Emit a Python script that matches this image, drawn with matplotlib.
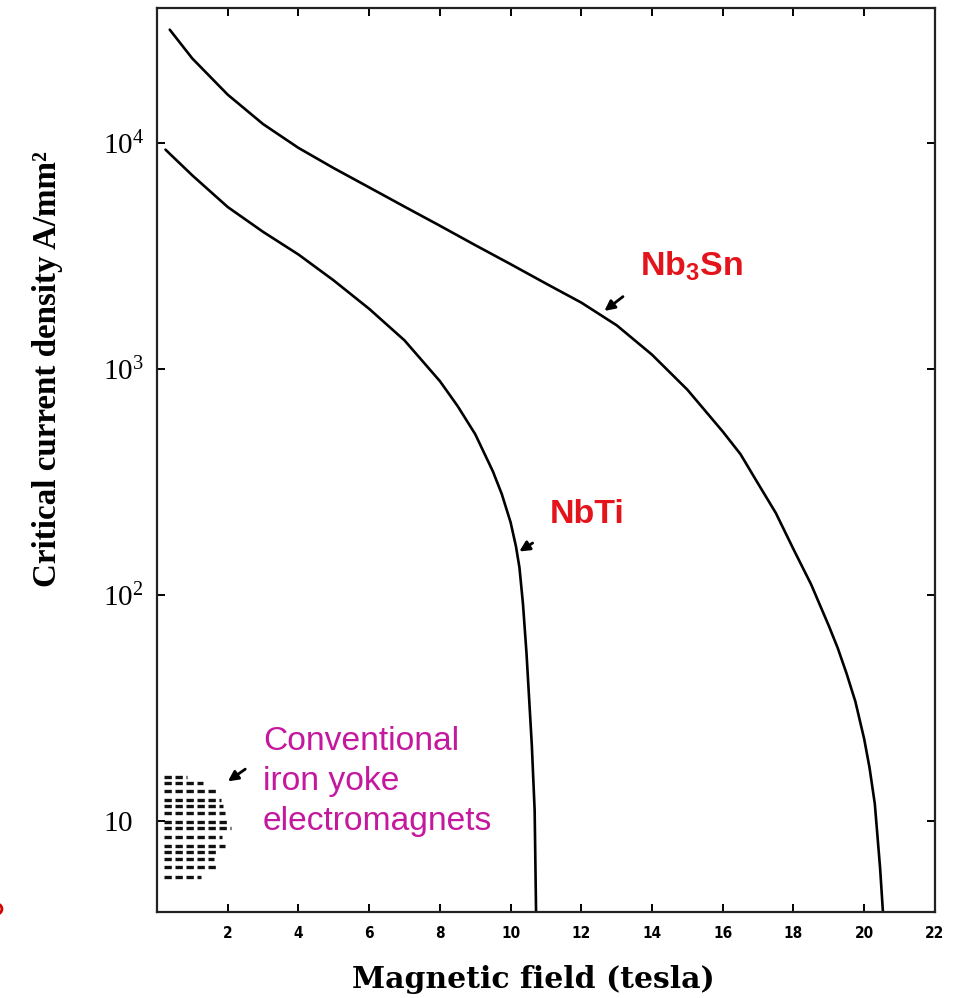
import matplotlib
matplotlib.use("Agg")
import matplotlib.pyplot as plt
from matplotlib.patches import Circle

# values (magnetic field in tesla, current density in A/mm2)
NB3SN_B = [0.36, 1, 2, 3, 4, 5, 6, 7, 8, 9, 10, 11, 12, 13, 14, 15, 16, 16.5, 17, 17.5,
           18, 18.5, 19, 19.25, 19.5, 19.75, 20, 20.15, 20.3, 20.45, 20.53]
NB3SN_J = [31600, 23550, 16300, 12080, 9480, 7710, 6340, 5210, 4290, 3520, 2900, 2380,
           1960, 1556, 1153, 807, 527, 419, 310, 230, 159, 111, 72.8, 58.2, 44.9, 33.7,
           23, 17.2, 11.9, 6.17, 3.95]
NBTI_B = [0.24, 1, 2, 3, 4, 5, 6, 7, 8, 8.5, 9, 9.5, 9.75, 10, 10.15, 10.25, 10.35,
          10.45, 10.6, 10.68, 10.72]
NBTI_J = [9310, 7160, 5190, 4030, 3200, 2455, 1840, 1334, 881, 684, 513, 351, 279, 209,
          164, 132, 91, 55, 21.6, 11.1, 3.95]
IRON_J = [15.7, 14.7, 13.6, 12.4, 11.6, 10.8, 9.9, 9.3, 8.5, 7.7, 7.3, 6.8, 6.25, 5.65]
IRON_BMAX = [0.86, 1.29, 1.71, 1.80, 1.88, 1.91, 1.97, 2.08, 1.85, 1.91, 1.71, 1.60, 1.71, 1.23]
IRON_BMIN = 0.19

X_TICKS = [2, 4, 6, 8, 10, 12, 14, 16, 18, 20, 22]
Y_TICKS = [10, 100, 1000, 10000]
Y_LABELS = [r"$\mathregular{10}$", r"$\mathregular{10^2}$", r"$\mathregular{10^3}$", r"$\mathregular{10^4}$"]
CONV_LINES = ["Conventional", "iron yoke", "electromagnets"]

RED = "#e3141c"
MAGENTA = "#c4189e"

fig = plt.figure(figsize=(9.58, 9.98), dpi=100)
ax = fig.add_axes([0.1639, 0.0862, 0.812, 0.906])
ax.set_yscale("log")
ax.set_xlim(0, 22)
ax.set_ylim(3.95, 39500)

ax.plot(NB3SN_B, NB3SN_J, color="black", lw=1.9, solid_capstyle="round", solid_joinstyle="round")
ax.plot(NBTI_B, NBTI_J, color="black", lw=1.9, solid_capstyle="round", solid_joinstyle="round")
ax.hlines(IRON_J, IRON_BMIN, IRON_BMAX, colors="#111111", lw=2.4, linestyles=(0, (2.2, 1.1)))

for s in ax.spines.values():
    s.set_linewidth(1.6)
    s.set_color("#222222")

ax.set_xticks(X_TICKS)
ax.set_xticklabels([str(t) for t in X_TICKS], fontfamily="DejaVu Sans", fontweight="bold",
                   fontstretch="condensed", fontsize=11)
ax.set_yticks(Y_TICKS)
ax.set_yticklabels(Y_LABELS, fontfamily="Liberation Serif", fontsize=21, ha="left")
ax.yaxis.set_minor_locator(matplotlib.ticker.NullLocator())
ax.tick_params(axis="both", which="major", direction="in", length=6, width=1.4,
               top=True, right=True)
ax.tick_params(axis="y", pad=39)
ax.tick_params(axis="x", pad=10)

arrow = dict(arrowstyle="-|>", lw=2.0, color="black", mutation_scale=15)
ax.annotate("", xy=(12.59, 1770), xytext=(13.24, 2120), arrowprops=arrow)
ax.annotate("", xy=(10.18, 153), xytext=(10.69, 172), arrowprops=arrow)
ax.annotate("", xy=(1.94, 14.7), xytext=(2.56, 17.2), arrowprops=arrow)

ax.text(13.66, 2830, r"Nb$_\mathregular{3}$Sn", color=RED, fontfamily="Liberation Sans",
        fontweight="bold", fontsize=24.5, ha="left", va="center")
ax.text(11.1, 226, "NbTi", color=RED, fontfamily="Liberation Sans",
        fontweight="bold", fontsize=24.5, ha="left", va="center")
for i, line in enumerate(CONV_LINES):
    ax.text(0.136, 0.179 - i * 0.0442, line, transform=ax.transAxes, color=MAGENTA,
            fontfamily="Liberation Sans", fontsize=24.2, ha="left", va="baseline")

fig.text(48 / 958, 1 - 369 / 998, "Critical current density A/mm²", rotation=90,
         fontfamily="Liberation Serif", fontweight="bold", fontsize=23.8,
         ha="center", va="center")
fig.text(533 / 958, 1 - 980 / 998, "Magnetic field (tesla)", fontfamily="DejaVu Serif",
         fontweight="bold", fontsize=21.5, ha="center", va="center")

fig.patches.append(Circle((-0.003, 1 - 909 / 998), 0.005, transform=fig.transFigure,
                          facecolor="none", edgecolor="#d40000", lw=2))

fig.savefig("out.png", dpi=100, facecolor="white")
